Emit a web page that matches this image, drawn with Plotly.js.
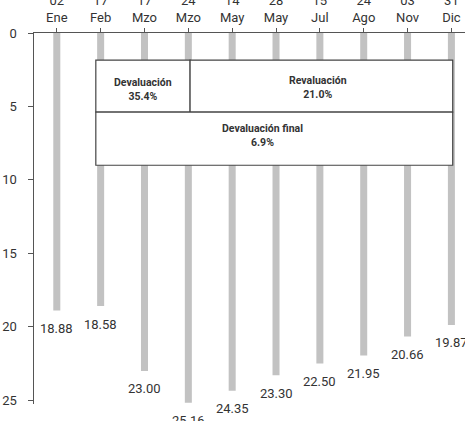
<!DOCTYPE html>
<html>
<head>
<meta charset="utf-8">
<script src="https://cdn.plot.ly/plotly-3.0.1.min.js"></script>
<style>html,body{margin:0;padding:0;background:#fff;}#chart{width:465px;height:421px;}</style>
</head>
<body>
<div id="chart"></div>
<script>
const days = ["02","17","17","24","14","28","15","24","03","31"];
const months = ["Ene","Feb","Mzo","Mzo","May","May","Jul","Ago","Nov","Dic"];
const values = [18.88, 18.58, 23.00, 25.16, 24.35, 23.30, 22.50, 21.95, 20.66, 19.87];
const valueLabels = ["18.88","18.58","23.00","25.16","24.35","23.30","22.50","21.95","20.66","19.87"];
const boxTitles = ["Devaluación","Revaluación","Devaluación final"];
const boxValues = ["35.4%","21.0%","6.9%"];

const FONT = "Roboto, 'Liberation Sans', sans-serif";
const idx = values.map((_, i) => i);
const tickText = days.map((d, i) => d + "<br>" + months[i]);

const trace = {
  type: "bar",
  x: idx,
  y: values,
  width: 0.16,
  marker: {color: "#c2c2c2"},
  hoverinfo: "skip"
};

const annotations = values.map((v, i) => ({
  x: i, y: v, text: valueLabels[i], showarrow: false,
  yshift: -18, font: {family: FONT, size: 13, color: "#333"}
}));

// boxes: [x0, x1, y0, y1]
const boxes = [[0.89, 3.04, 1.84, 5.38],[3.04, 9.03, 1.84, 5.38],[0.89, 9.03, 5.38, 9.0]];
const textShift = [[0, -3], [-3, -1], [-12, 3]];
const shapes = boxes.map(b => ({
  type: "rect", xref: "x", yref: "y", x0: b[0], x1: b[1], y0: b[2], y1: b[3],
  fillcolor: "#fff", line: {color: "#444", width: 1.2}, layer: "above"
}));
boxes.forEach((b, i) => {
  annotations.push({
    x: (b[0] + b[1]) / 2, y: (b[2] + b[3]) / 2,
    xshift: textShift[i][0], yshift: textShift[i][1],
    text: "<b>" + boxTitles[i] + "</b><br><b>" + boxValues[i] + "</b>",
    showarrow: false, font: {family: FONT, size: 10.5, color: "#333"}
  });
});

const layout = {
  width: 465, height: 421,
  margin: {l: 34, r: 0, t: 33, b: 17},
  paper_bgcolor: "#fff", plot_bgcolor: "#fff",
  showlegend: false,
  xaxis: {
    side: "top", range: [-0.52, 9.31], tickvals: idx, ticktext: tickText,
    tickson: "boundaries", ticks: "outside", ticklen: 4, tickcolor: "#555",
    showline: true, linecolor: "#555", linewidth: 1.5, showgrid: false, zeroline: false,
    tickfont: {family: FONT, size: 13, color: "#333"}
  },
  yaxis: {
    range: [25.25, 0], tickvals: [0,5,10,15,20,25],
    ticks: "outside", ticklen: 5, tickcolor: "#555", ticklabelstandoff: 8,
    showline: true, linecolor: "#555", linewidth: 1.5, showgrid: false, zeroline: false,
    tickfont: {family: FONT, size: 13, color: "#333"}
  },
  shapes: shapes,
  annotations: annotations
};

Plotly.newPlot("chart", [trace], layout, {displayModeBar: false, staticPlot: true});
</script>
</body>
</html>
